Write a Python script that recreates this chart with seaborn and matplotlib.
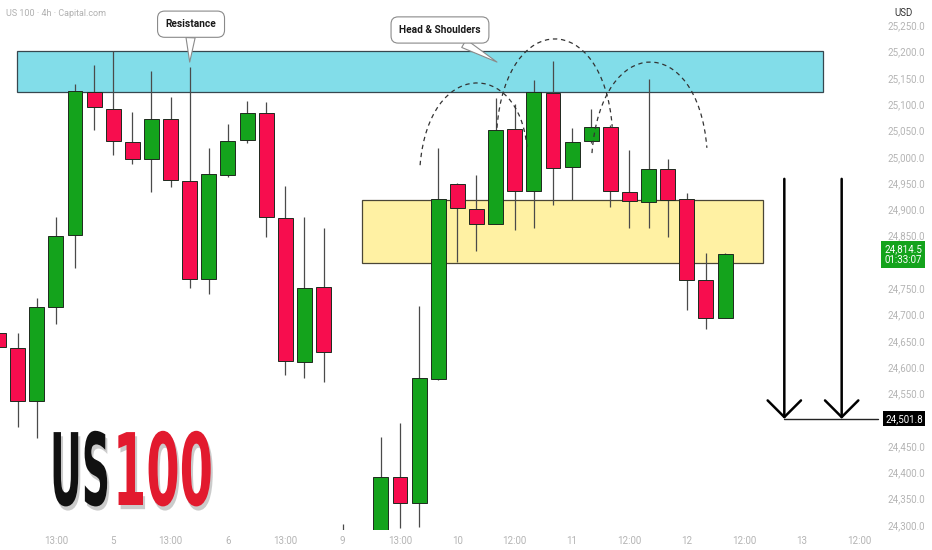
import matplotlib
matplotlib.use("Agg")
import matplotlib.pyplot as plt
import matplotlib.patheffects as pe
from matplotlib.path import Path
from matplotlib.patches import PathPatch, Rectangle
from matplotlib.transforms import Affine2D
import seaborn as sns

# 4h candles, slot = candle number from the left edge
slots = [0, 1, 2, 3, 4, 5, 6, 7, 8, 9, 10, 11, 12, 13, 14, 15, 16, 17, 18,
         20, 21, 22, 23, 24, 25, 26, 27, 28, 29, 30, 31, 32, 33, 34, 35, 36, 37, 38]
opens = [24665, 24636, 24536, 24714, 24851, 25123, 25091, 25028, 24996, 25072,
         24954, 24768, 24965, 25032, 25083, 24884, 24610, 24752, 24262,
         24270, 24391, 24342, 24578, 24948, 24901, 24872, 25053, 24935, 25121,
         24981, 25030, 25057, 24933, 24914, 24977, 24920, 24766, 24694]
highs = [24678, 24665, 24732, 24886, 25138, 25174, 25201, 25085, 25163, 25114,
         25170, 25017, 25062, 25106, 25104, 24944, 24886, 24865, 24302,
         24467, 24494, 24716, 25017, 24950, 24965, 25112, 25100, 25146, 25182,
         25055, 25091, 25060, 25013, 25148, 24996, 24931, 24817, 24817]
lows = [24629, 24486, 24465, 24682, 24789, 25051, 25003, 24986, 24933, 24943,
        24751, 24739, 24962, 25026, 24847, 24585, 24579, 24572, 24240,
        24255, 24294, 24296, 24576, 24800, 24821, 24872, 24861, 24865, 24908,
        24918, 25026, 24905, 24865, 24865, 24847, 24709, 24673, 24694]
closes = [24638, 24536, 24714, 24849, 25125, 25095, 25030, 24996, 25072, 24956,
          24768, 24967, 25030, 25083, 24886, 24612, 24751, 24629, 24275,
          24391, 24342, 24579, 24920, 24903, 24872, 25051, 24935, 25123, 24979,
          25028, 25057, 24935, 24916, 24977, 24918, 24766, 24694, 24814.5]

tick_slots = [3, 6, 9, 12, 15, 18, 21, 24, 27, 30, 33, 36, 39, 42, 45]
tick_labels = ["13:00", "5", "13:00", "6", "13:00", "9", "13:00", "10",
               "12:00", "11", "12:00", "12", "12:00", "13", "12:00"]
price_ticks = [p for p in range(24300, 25300, 50) if p not in (24500, 24800)]

last_price = 24814.5
last_timer = "01:33:07"
target_price = 24501.8

# zones: (slot from, slot to, price low, price high)
resistance_zone = (0.95, 43.1, 25123, 25201)
support_zone = (19.0, 40.0, 24798, 24918)

# head & shoulders arches: start, peak, end as (slot, price)
arches = [
    [(22.05, 24984), (25.1, 25140), (27.64, 25019)],
    [(26.07, 25055), (29.1, 25224), (32.1, 25057)],
    [(31.04, 25007), (34.2, 25180), (37.05, 25017)],
]
arrow_slots = [41.1, 44.1]
arrow_top = 24958


class Stretched(pe.AbstractPathEffect):
    """Draw text glyphs scaled around a fixed figure point (condensed look)."""

    def __init__(self, fx, fy, sx, sy, offset=(0, 0), color=None, alpha=None):
        super().__init__(offset)
        self.fx, self.fy, self.sx, self.sy = fx, fy, sx, sy
        self.color, self.alpha = color, alpha

    def draw_path(self, renderer, gc, tpath, affine, rgbFace=None):
        x0 = self.fx * renderer.width
        y0 = self.fy * renderer.height
        stretch = (Affine2D().translate(-x0, -y0)
                   .scale(self.sx, self.sy).translate(x0, y0))
        gc0 = renderer.new_gc()
        gc0.copy_properties(gc)
        gc0.set_linewidth(0)
        face = rgbFace
        if self.color is not None:
            face = matplotlib.colors.to_rgba(self.color)
        if self.alpha is not None:
            gc0.set_alpha(self.alpha)
        renderer.draw_path(gc0, tpath,
                           affine + stretch + self._offset_transform(renderer),
                           face)
        gc0.restore()


sns.set_theme(style="white")
plt.rcParams["font.family"] = ["Roboto", "DejaVu Sans"]

fig = plt.figure(figsize=(9.32, 5.5), dpi=100)
ax = fig.add_axes([0, 20 / 550, 878 / 932, 530 / 550])
ax.set_xlim(0.078, 46.0)
ax.set_ylim(24290.5, 25298)
for s in ax.spines.values():
    s.set_visible(False)

up_col = "#14a31c"
dn_col = "#f70d4e"

# zones
for (x0, x1, y0, y1), fc, ec in [(resistance_zone, "#82dde9", "#37474f"),
                                 (support_zone, "#fff1a3", "#4a4636")]:
    ax.add_patch(Rectangle((x0, y0), x1 - x0, y1 - y0, facecolor=fc,
                           edgecolor=ec, lw=0.9, zorder=1))

# candles
for x, o, h, l, c in zip(slots, opens, highs, lows, closes):
    col = up_col if c >= o else dn_col
    ax.vlines(x, l, h, color="#4a4a4a", lw=0.9, zorder=2)
    ax.bar(x, abs(c - o), bottom=min(o, c), width=0.78, color=col,
           edgecolor="#1e2a1e", lw=0.7, zorder=3)

# dashed arches
for (p0, pk, p3) in arches:
    w = p3[0] - p0[0]
    cy = (pk[1] - 0.125 * (p0[1] + p3[1])) / 0.75
    verts = [p0, (p0[0] + 0.08 * w, cy), (p3[0] - 0.08 * w, cy), p3]
    path = Path(verts, [Path.MOVETO, Path.CURVE4, Path.CURVE4, Path.CURVE4])
    ax.add_patch(PathPatch(path, fill=False, ec="#333333", lw=0.9,
                           ls=(0, (3.5, 3)), zorder=4))

# target arrows and line
ax.plot([arrow_slots[0], 46.0], [target_price, target_price], color="#222222",
        lw=1.0, zorder=4, clip_on=False)
for xs in arrow_slots:
    ax.annotate("", xy=(xs, target_price), xytext=(xs, arrow_top),
                arrowprops=dict(arrowstyle="->,head_length=1.0,head_width=1.0",
                                lw=1.8, color="black", shrinkA=0, shrinkB=0),
                zorder=5)

# callouts
for txt, box_xy, tip_xy in [("Resistance", (10.07, 25252), (10.0, 25180)),
                            ("Head & Shoulders", (23.09, 25241), (26.07, 25180))]:
    ax.annotate(txt, xy=tip_xy, xytext=box_xy, ha="center", va="center",
                fontsize=7.3, fontweight="bold", color="#1a1a1a", zorder=6,
                bbox=dict(boxstyle="round,pad=0.8,rounding_size=0.7",
                          fc="white", ec="#8a8a8a", lw=0.8),
                arrowprops=dict(arrowstyle="wedge,tail_width=0.9,shrink_factor=0.5",
                                fc="white", ec="#8a8a8a", lw=0.8,
                                shrinkA=0, shrinkB=0))

# axes ticks
ax.set_xticks(tick_slots)
ax.set_xticklabels(tick_labels)
ax.yaxis.tick_right()
ax.set_yticks(price_ticks)
ax.set_yticklabels([f"{p:,.1f}" for p in price_ticks])
ax.tick_params(axis="both", length=0, labelsize=7, labelcolor="#b4b4b4")
ax.tick_params(axis="y", pad=7)
ax.tick_params(axis="x", pad=4)

# price labels on the scale
ax.annotate(f"{last_price:,.1f}\n{last_timer}", xy=(1.007, last_price),
            xycoords=("axes fraction", "data"), ha="left", va="center",
            fontsize=7, color="white", linespacing=1.1, zorder=7,
            annotation_clip=False,
            bbox=dict(boxstyle="square,pad=0.3", fc="#14a31c", ec="none"))
ax.annotate(f"{target_price:,.1f}", xy=(1.008, target_price),
            xycoords=("axes fraction", "data"), ha="left", va="center",
            fontsize=7, color="white", zorder=7, annotation_clip=False,
            bbox=dict(boxstyle="square,pad=0.25", fc="black", ec="none"))

fig.text(6 / 932, 1 - 13 / 550, "US 100 · 4h · Capital.com", fontsize=6.5,
         color="#b0b0b0", va="center", ha="left")
fig.text(904 / 932, 1 - 13 / 550, "USD", fontsize=7, color="#333333",
         va="center", ha="center")

# big symbol text, stretched tall and narrow like a condensed display face
base_fy = 1 - 505 / 550
for txt, anchor_px, ha, col, sx in [("US", 50, "left", "#111111", 0.94),
                                    ("100", 213, "right", "#e21a2e", 1.15)]:
    fx = anchor_px / 932
    fig.text(fx, base_fy, txt, ha=ha, va="baseline", color=col,
             fontsize=30, fontweight="bold", family="DejaVu Sans",
             path_effects=[Stretched(fx, base_fy, sx, 2.4, offset=(1.5, -3),
                                     color="#555555", alpha=0.3),
                           Stretched(fx, base_fy, sx, 2.4)])

fig.savefig("out.png", dpi=100, facecolor="white")
